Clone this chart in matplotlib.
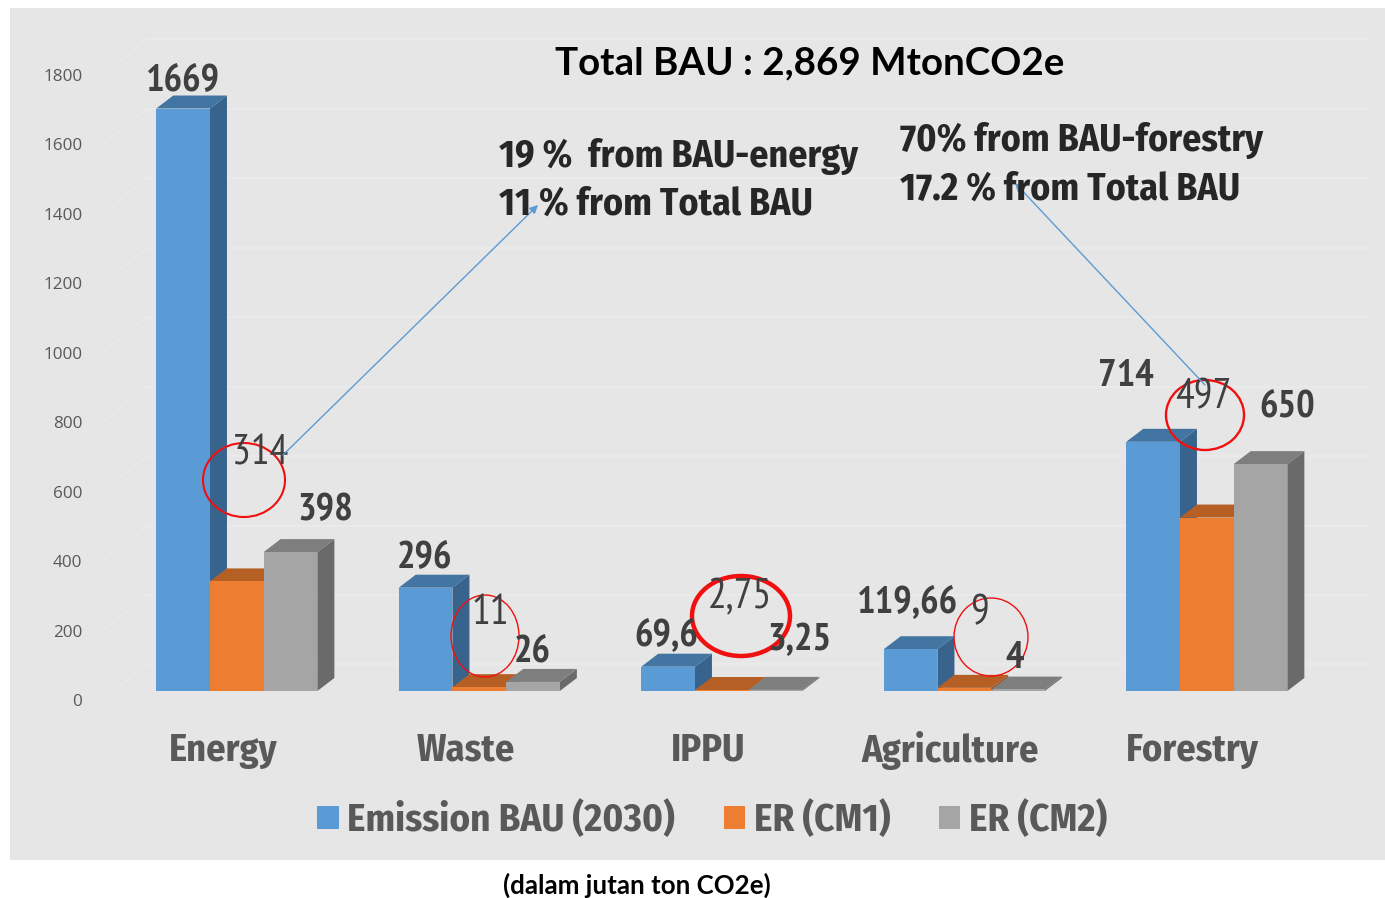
import matplotlib
matplotlib.use("Agg")
import matplotlib.pyplot as plt
from matplotlib.patches import Ellipse, Patch, Polygon, Rectangle

categories = ["Energy", "Waste", "IPPU", "Agriculture", "Forestry"]
bau = [1669, 296, 69.6, 119.66, 714]
cm1 = [314, 11, 2.75, 9, 497]
cm2 = [398, 26, 3.25, 4, 650]
series_names = ["Emission BAU (2030)", "ER (CM1)", "ER (CM2)"]
y_ticks = [0, 200, 400, 600, 800, 1000, 1200, 1400, 1600, 1800]

W, H = 1385, 898
PX_Y = 0.349    # pixels per unit
PX_X = 242.5    # pixels per category
X0, Y0 = 236.8, 691

narrow = ["PT Sans Narrow", "Fira Sans Condensed", "Liberation Sans"]
words = ["Fira Sans Condensed", "PT Sans Narrow", "Liberation Sans"]
dark = "#404040"
axis_grey = "#595959"

fig = plt.figure(figsize=(W / 100, H / 100), dpi=100, facecolor="white")
ax = fig.add_axes([0, 0, 1, 1])
ax.set_xlim((0 - X0) / PX_X, (W - X0) / PX_X)
ax.set_ylim((Y0 - H) / PX_Y, Y0 / PX_Y)
ax.axis("off")

# overlay in pixels for the slide text
ov = fig.add_axes([0, 0, 1, 1], facecolor="none")
ov.set_xlim(0, W)
ov.set_ylim(H, 0)
ov.axis("off")

ax.add_patch(Rectangle((-X0 / PX_X + 10 / PX_X, (Y0 - 860) / PX_Y), 1375 / PX_X, 852 / PX_Y,
                       fc="#e6e6e6", ec="none", zorder=0))

# back wall, side wall
grid_c = "#ebebeb"
for v in y_ticks:
    back = 76 + v * 0.995
    front = -30 + v * 0.995
    ax.plot([-0.37, 4.66], [back, back], color=grid_c, lw=1.3, zorder=1)
    ax.plot([-0.56, -0.37], [front, back], color=grid_c, lw=1.0, ls=(0, (6, 1.5)), zorder=1)
    ax.text(-0.637, -32 + v * 0.9956, str(v), ha="right", va="center", fontsize=12.3,
            family="Open Sans", color=axis_grey, zorder=5)

# pseudo 3D bars
width = 53.7 / PX_X
dx = 17 / PX_X
dy = 13 / PX_Y
fronts = ["#5b9bd5", "#ed7d31", "#a5a5a5"]
tops = ["#4375a3", "#b55f25", "#7e7e7e"]
sides = ["#38638c", "#9e5320", "#6a6a6a"]
z = 2
for i in range(len(categories)):
    for k, vals in enumerate([bau, cm1, cm2]):
        left = i - 1.5 * width + k * width
        right = left + width
        v = vals[i]
        ax.add_patch(Polygon([(right, 0), (right + dx, dy), (right + dx, v + dy), (right, v)],
                             fc=sides[k], ec="none", zorder=z))
        ax.add_patch(Polygon([(left, v), (left + dx, v + dy), (right + dx, v + dy), (right, v)],
                             fc=tops[k], ec="none", zorder=z))
        ax.bar(left, v, width=width, align="edge", color=fronts[k], zorder=z + 0.5)
        z += 1

    ax.text(i - 14 / PX_X, -170, categories[i], ha="center", va="center", fontsize=27.5,
            family=words, weight="bold", color=axis_grey, zorder=40)

# data labels as placed on the slide
bold_labels = [("1669", 183, 81), ("398", 325, 511), ("296", 424, 558), ("26", 532, 652),
               ("69,6", 666, 636), ("3,25", 799, 641), ("119,66", 908, 603), ("4", 1015, 658),
               ("714", 1126, 377), ("650", 1287, 407)]
thin_labels = [("314", 260, 454), ("11", 490, 613), ("2,75", 740, 598), ("9", 979, 614),
               ("497", 1203, 398)]
for s, x, y in bold_labels:
    ov.text(x, y, s, ha="center", va="center", fontsize=28, family=narrow, weight="bold", color=dark)
for s, x, y in thin_labels:
    ov.text(x, y, s, ha="center", va="center", fontsize=30, family=narrow, color=dark)

# red circles
circles = [(244, 480, 82, 74, 1.5), (485, 636, 68, 82, 1.0), (741, 616, 98, 80, 3.2),
           (991, 637, 74, 78, 1.0), (1205, 415, 78, 70, 1.7)]
for x, y, w, h, lw in circles:
    ov.add_patch(Ellipse((x, y), w, h, fc="none", ec="#f01010", lw=lw))

# arrows to the notes
arrow = dict(arrowstyle="-|>", color="#5b9bd5", lw=1.0, mutation_scale=12, shrinkA=0, shrinkB=0)
ov.annotate("", xy=(538, 205), xytext=(283, 455), arrowprops=arrow)
ov.annotate("", xy=(1015, 183), xytext=(1205, 385), arrowprops=arrow)

notes = [("19 %  from BAU-energy", 499, 157), ("11 % from Total BAU", 499, 204),
         ("70% from BAU-forestry", 900, 141), ("17.2 % from Total BAU", 900, 189)]
for s, x, y in notes:
    ov.text(x, y, s, ha="left", va="center", fontsize=27.2, family=words, weight="bold", color="#262626")

ov.text(810, 63, "Total BAU : 2,869 MtonCO2e", ha="center", va="center", fontsize=27.7,
        family="Lato", weight="bold", color="black")
ov.text(637, 885, "(dalam jutan ton CO2e)", ha="center", va="center", fontsize=18.6,
        family="Lato", weight="bold", color="black")

handles = [Patch(fc=c, ec="none", label=n) for c, n in zip(fronts, series_names)]
fig.legend(handles=handles, loc="center", bbox_to_anchor=(712 / W, 1 - 820 / H), ncol=3, frameon=False,
           prop={"family": words, "weight": "bold", "size": 28}, labelcolor=axis_grey,
           handlelength=0.55, handleheight=0.55, handletextpad=0.22, columnspacing=1.25)

fig.savefig("out.png", dpi=100)
